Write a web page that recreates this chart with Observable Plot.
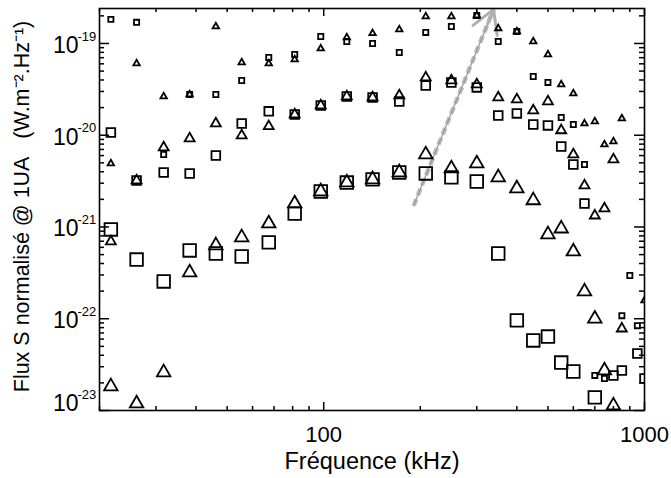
<!DOCTYPE html>
<html><head><meta charset="utf-8">
<script src="https://cdn.jsdelivr.net/npm/d3@7"></script>
<script src="https://cdn.jsdelivr.net/npm/@observablehq/plot@0.6"></script>
<style>body{margin:0;background:#fff} svg{display:block}</style>
</head><body><div id="chart"></div>
<script>
// Frequencies (kHz)
const freqKHz = [21.7, 26.1, 31.7, 38.2, 46.1, 55.5, 67.4, 81.2, 97.9, 118, 142, 172, 208, 250, 300, 350, 400, 450, 500, 550, 600, 650, 700, 750, 800, 850, 900, 950, 1000];
// Flux series (W.m-2.Hz-1)
const smallTri = [4.92e-21, 6.05e-20, 2.64e-20, 2.78e-20, 1.53e-19, 6.21e-20, 6.05e-20, 6.69e-20, 8.8e-20, 1.16e-19, 1.29e-19, 1.42e-19, 1.97e-19, 1.97e-19, 2.02e-19, 1.46e-19, 1.35e-19, 1.05e-19, 7.59e-20, 3.57e-20, 2.85e-20, 1.34e-20, 1.41e-20, 7.93e-21, 8.55e-21, 1.52e-20, null, null, 1.58e-22];
const smallSq = [1.83e-19, 1.70e-19, 6.17e-21, 2.78e-20, 2.78e-20, 3.95e-20, 7.04e-20, 7.59e-20, 1.19e-19, 1.05e-19, 1.0e-19, 7.98e-20, 1.32e-19, 1.53e-19, 2.02e-19, 1.05e-19, 1.35e-19, 4.37e-20, 3.76e-20, 1.56e-20, 1.31e-20, 4.80e-21, 2.41e-23, 2.23e-23, null, 1.08e-22, 2.96e-22, 8.4e-23, null];
const medTri = [6.95e-22, 3.21e-21, 7.36e-21, 9.22e-21, 1.34e-20, 9.94e-21, 1.25e-20, 1.68e-20, 2.11e-20, 2.64e-20, 2.58e-20, 2.71e-20, 4.26e-20, 3.95e-20, 3.57e-20, 2.58e-20, 2.45e-20, 1.86e-20, 2.33e-20, 1.13e-20, 6.17e-21, 2.83e-21, 1.33e-21, 1.59e-21, 5.44e-21, 7.8e-23, null, null, null];
const medSq = [1.07e-20, 3.21e-21, 3.93e-21, 3.83e-21, 6.02e-21, 1.34e-20, 1.82e-20, 1.68e-20, 2.11e-20, 2.64e-20, 2.58e-20, 2.33e-20, 3.48e-20, 3.76e-20, 3.32e-20, 1.64e-20, 1.73e-20, 1.31e-20, 1.28e-20, 7.54e-21, 4.80e-21, 1.80e-21, null, null, 2.41e-23, 2.73e-23, null, 4.18e-23, 2.23e-23];
const largeTri = [1.83e-23, 1.19e-23, 2.60e-23, 3.19e-22, 6.3e-22, 7.7e-22, 1.09e-21, 1.80e-21, 2.44e-21, 3.05e-21, 3.30e-21, 3.93e-21, 6.17e-21, 4.34e-21, 4.92e-21, 3.47e-21, 2.63e-21, 1.95e-21, 8.3e-22, 9.6e-22, 5.4e-22, 1.98e-22, 1.0e-22, 2.73e-23, 1.13e-23, null, null, null, null];
const largeSq = [9.4e-22, 4.42e-22, 2.55e-22, 5.55e-22, 5.14e-22, 4.77e-22, 6.8e-22, 1.40e-21, 2.44e-21, 3.05e-21, 3.30e-21, 3.93e-21, 3.83e-21, 3.47e-21, 3.13e-21, 5.14e-22, 9.6e-23, 5.8e-23, 6.4e-23, 3.33e-23, 2.66e-23, 8.6e-24, 1.39e-23, null, null, null, null, null, null];

// Axes
const xMajorTicks = [100, 1000];
const xTickLabels = ["100", "1000"];
const xMinorTicks = [20, 30, 40, 50, 60, 70, 80, 90, 200, 300, 400, 500, 600, 700, 800, 900];
const yMajorTicks = [1e-22, 1e-21, 1e-20, 1e-19];
const yExponents = ["-22", "-21", "-20", "-19"];
const yBottomTick = [1e-23];
const yBottomExponent = ["-23"];
const yMinorTicks = [2e-23,3e-23,4e-23,5e-23,6e-23,7e-23,8e-23,9e-23,
  2e-22,3e-22,4e-22,5e-22,6e-22,7e-22,8e-22,9e-22,
  2e-21,3e-21,4e-21,5e-21,6e-21,7e-21,8e-21,9e-21,
  2e-20,3e-20,4e-20,5e-20,6e-20,7e-20,8e-20,9e-20, 2e-19];
const xTitle = "Fréquence (kHz)";
const yTitle = "Flux S normalisé @ 1UA\u00a0\u00a0\u00a0(W.m\u207B\u00B2.Hz\u207B\u00B9)";
// Annotation arrow (frequency kHz, flux)
const arrowPts = [{f1: 190.7, s1: 1.71e-21, f2: 338.5, s2: 2.35e-19}];

const W = 671, H = 478, mL = 99, mR = 27, mT = 8, mB = 68;
const innerW = W - mL - mR, innerH = H - mT - mB;

function rows(vals) {
  return freqKHz.map((f, i) => ({f, v: vals[i]})).filter(d => d.v != null);
}
function series(vals, symbol, r) {
  return Plot.dot(rows(vals), {x: "f", y: "v", symbol, r, stroke: "black", strokeWidth: 1.8, fill: "none", clip: true});
}

const chart = Plot.plot({
  width: W, height: H,
  marginLeft: mL, marginRight: mR, marginTop: mT, marginBottom: mB,
  style: {fontFamily: "'Liberation Sans', Arial, Helvetica, sans-serif", background: "white"},
  x: {type: "log", domain: [20, 1000], axis: null},
  y: {type: "log", domain: [1e-23, 2.405e-19], axis: null},
  marks: [
    // arrow annotation
    Plot.link(arrowPts, {x1: "f1", y1: "s1", x2: "f2", y2: "s2", stroke: "#bdbdbd", strokeWidth: 4.5, strokeDasharray: "7,4"}),
    Plot.arrow(arrowPts, {x1: "f1", y1: "s1", x2: "f2", y2: "s2", stroke: "#9a9a9a", strokeWidth: 1.3, headLength: 14}),
    Plot.arrow(arrowPts, {x1: "f1", y1: "s1", x2: "f2", y2: "s2", stroke: "#b0b0b0", strokeWidth: 3, headLength: 13, insetStart: 196}),
    // data
    series(smallSq, "square", 2.9),
    series(smallTri, "triangle", 2.4),
    series(medSq, "square", 4.9),
    series(medTri, "triangle", 3.7),
    series(largeSq, "square", 7.1),
    series(largeTri, "triangle", 5.0),
    // frame and ticks
    Plot.frame({stroke: "black", strokeWidth: 1.6}),
    Plot.tickX(xMajorTicks, {x: d => d, insetTop: innerH - 8, strokeWidth: 1.5}),
    Plot.tickX(xMajorTicks, {x: d => d, insetBottom: innerH - 8, strokeWidth: 1.5}),
    Plot.tickX(xMinorTicks, {x: d => d, insetTop: innerH - 4, strokeWidth: 1.5}),
    Plot.tickX(xMinorTicks, {x: d => d, insetBottom: innerH - 4, strokeWidth: 1.5}),
    Plot.tickY(yMajorTicks.concat(yBottomTick), {y: d => d, insetRight: innerW - 10, strokeWidth: 1.5}),
    Plot.tickY(yMajorTicks.concat(yBottomTick), {y: d => d, insetLeft: innerW - 10, strokeWidth: 1.5}),
    Plot.tickY(yMinorTicks, {y: d => d, insetRight: innerW - 5, strokeWidth: 1.5}),
    Plot.tickY(yMinorTicks, {y: d => d, insetLeft: innerW - 5, strokeWidth: 1.5}),
    // y tick labels
    Plot.text(yMajorTicks, {y: d => d, text: () => "10", frameAnchor: "left", textAnchor: "end", dx: -21, dy: 2, fontSize: 23, fill: "black"}),
    Plot.text(yMajorTicks, {y: d => d, text: (d, i) => yExponents[i], frameAnchor: "left", textAnchor: "start", dx: -22, dy: -7, fontSize: 13, fill: "black"}),
    Plot.text(yBottomTick, {y: d => d, text: () => "10", frameAnchor: "left", textAnchor: "end", dx: -21, dy: -7, fontSize: 23, fill: "black"}),
    Plot.text(yBottomTick, {y: d => d, text: (d, i) => yBottomExponent[i], frameAnchor: "left", textAnchor: "start", dx: -22, dy: -16, fontSize: 13, fill: "black"}),
    // x tick labels
    Plot.text(xMajorTicks, {x: d => d, text: (d, i) => xTickLabels[i], frameAnchor: "bottom", dy: 31, fontSize: 22, fill: "black"}),
    // titles
    Plot.text([xTitle], {text: d => d, frameAnchor: "bottom", dy: 58, fontSize: 23.5, fill: "black"}),
    Plot.text([yTitle], {text: d => d, frameAnchor: "left", textAnchor: "middle", rotate: -90, dx: -77, dy: -3, fontSize: 21.5, fill: "black"})
  ]
});
document.getElementById("chart").appendChild(chart);
</script>
</body></html>
